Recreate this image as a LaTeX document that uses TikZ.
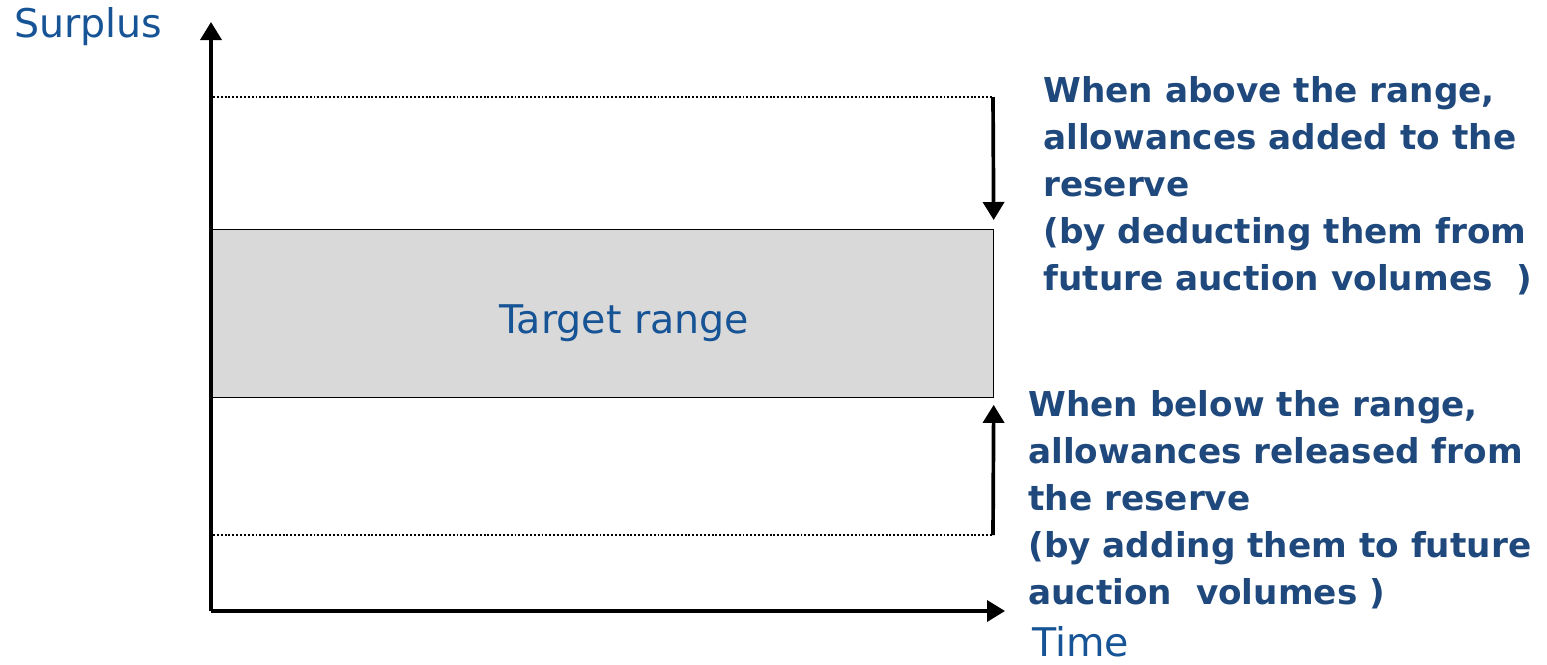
\documentclass[tikz,border=0pt]{standalone}
\usepackage{fontspec}
\setmainfont{DejaVu Sans}
\usepackage{tikz}
\usetikzlibrary{positioning,arrows.meta}
\definecolor{noteblue}{RGB}{31,73,125}
\definecolor{labblue}{RGB}{22,84,150}
\definecolor{rangegray}{RGB}{217,217,217}

\begin{document}
\begin{tikzpicture}[
      x=0.02cm, y=-0.02cm,
      axis/.style={line width=2.1pt, -{Triangle[width=0.42cm,length=0.36cm]}},
      pusharrow/.style={line width=2.1pt, -{Triangle[width=0.42cm,length=0.36cm]}},
      dotline/.style={line width=1.5pt, dash pattern=on 1.1pt off 1.1pt},
      rangebox/.style={rectangle, draw, fill=rangegray, line width=0.5pt, inner sep=0pt, minimum width=15.62cm, minimum height=3.36cm},
      axislab/.style={text=labblue, inner sep=0pt, font=\fontsize{22.5pt}{27pt}\selectfont},
      note/.style={text=noteblue, inner sep=0pt, align=left, font=\fontsize{19.5pt}{26.7pt}\selectfont\bfseries}
    ]
    \useasboundingbox (0,0) rectangle (1547,664);

    % axes
    \coordinate (origin) at (211,611);
    \coordinate (ytip) at (211,22);
    \coordinate (xtip) at (1005,611);
    \draw[axis] (origin) -- (ytip);
    \draw[axis] (origin) -- (xtip);
    \node[axislab, anchor=base west] (surplus) at (14,37) {Surplus};
    \node[axislab, anchor=base west] (time) at (1032,656) {Time};

    % target band
    \node[rangebox, anchor=north west] (range) at (212,229) {};
    \node[axislab, anchor=base west] (rangelab) at (499,333) {Target range};

    % upper and lower limits
    \coordinate (hiL) at (213,97);
    \coordinate (hiR) at (993,97);
    \coordinate (loL) at (213,535);
    \coordinate (loR) at (993,535);
    \draw[dotline] (hiL) -- (hiR);
    \draw[dotline] (loL) -- (loR);
    \draw[pusharrow, shorten >=0.18cm] (hiR) -- (range.north east);
    \draw[pusharrow, shorten >=0.14cm] (loR) -- (range.south east);

    \node[note, anchor=north west] (abovenote) at (1043,76) {When above the range,\\allowances added to the\\reserve\\(by deducting them from\\future auction volumes\ \ )};
    \node[note, anchor=north west] (belownote) at (1028,390) {When below the range,\\allowances released from\\the reserve\\(by adding them to future\\auction\ \ volumes )};
    \end{tikzpicture}
\end{document}
